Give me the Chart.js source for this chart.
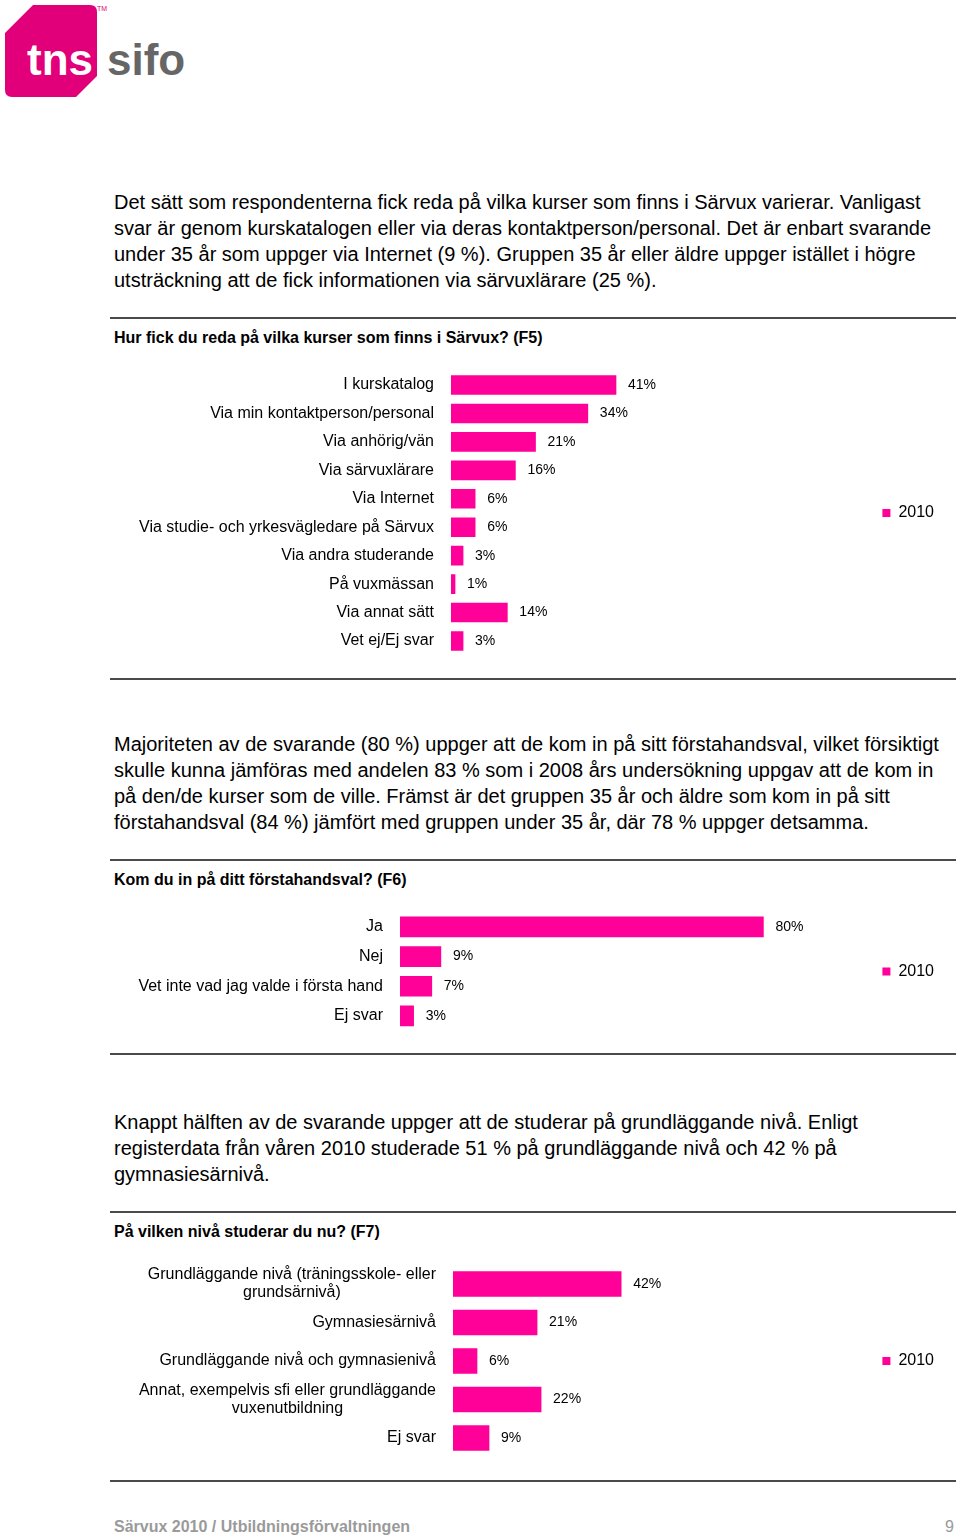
<!DOCTYPE html>
<html>
<head>
<meta charset="utf-8">
<script src="https://cdn.jsdelivr.net/npm/chart.js"></script>
<style>
  html, body { margin: 0; padding: 0; background: #fff; }
  body {
    width: 960px;
    height: 1540px;
    position: relative;
    overflow: hidden;
    font-family: "Liberation Sans", Arial, sans-serif;
    color: #000;
  }
  .para {
    position: absolute;
    left: 114px;
    font-size: 20px;
    line-height: 26px;
    white-space: nowrap;
  }
  .heading {
    position: absolute;
    left: 114px;
    font-size: 16px;
    font-weight: bold;
    line-height: 20px;
    white-space: nowrap;
  }
  .rule {
    position: absolute;
    left: 110px;
    width: 846px;
    height: 2px;
    background: #4a4a4a;
  }
  .chart-box { position: absolute; left: 110px; width: 850px; }
  .footer {
    position: absolute;
    top: 1518px;
    font-family: "Liberation Sans Narrow", "Liberation Sans", Arial, sans-serif;
    font-weight: bold;
    font-size: 16px;
    color: #9a9a9a;
  }
</style>
</head>
<body>

<svg style="position:absolute;left:0;top:0" width="200" height="110">
  <path d="M33,5 L90,5 Q97,5 97,12 L97,76 L76,97 L12,97 Q5,97 5,90 L5,33 Z" fill="#e2007a"/>
  <text x="27" y="75" font-family="Liberation Sans, Arial" font-weight="bold" font-size="44" fill="#fff">tns</text>
  <text x="107" y="75" font-family="Liberation Sans, Arial" font-weight="bold" font-size="44" fill="#666">sifo</text>
  <text x="97" y="11" font-family="Liberation Sans, Arial" font-size="7" fill="#e2007a">TM</text>
</svg>

<div class="para" style="top:189px">
Det sätt som respondenterna fick reda på vilka kurser som finns i Särvux varierar. Vanligast<br>
svar är genom kurskatalogen eller via deras kontaktperson/personal. Det är enbart svarande<br>
under 35 år som uppger via Internet (9 %). Gruppen 35 år eller äldre uppger istället i högre<br>
utsträckning att de fick informationen via särvuxlärare (25 %).
</div>

<div class="rule" style="top:317px"></div>
<div class="heading" style="top:328px">Hur fick du reda på vilka kurser som finns i Särvux? (F5)</div>
<div class="chart-box" style="top:361px;height:300px"><canvas id="chartF5"></canvas></div>
<div class="rule" style="top:678px"></div>

<div class="para" style="top:731px">
Majoriteten av de svarande (80 %) uppger att de kom in på sitt förstahandsval, vilket försiktigt<br>
skulle kunna jämföras med andelen 83 % som i 2008 års undersökning uppgav att de kom in<br>
på den/de kurser som de ville. Främst är det gruppen 35 år och äldre som kom in på sitt<br>
förstahandsval (84 %) jämfört med gruppen under 35 år, där 78 % uppger detsamma.
</div>

<div class="rule" style="top:859px"></div>
<div class="heading" style="top:870px">Kom du in på ditt förstahandsval? (F6)</div>
<div class="chart-box" style="top:901px;height:140px"><canvas id="chartF6"></canvas></div>
<div class="rule" style="top:1053px"></div>

<div class="para" style="top:1109px">
Knappt hälften av de svarande uppger att de studerar på grundläggande nivå. Enligt<br>
registerdata från våren 2010 studerade 51 % på grundläggande nivå och 42 % på<br>
gymnasiesärnivå.
</div>

<div class="rule" style="top:1211px"></div>
<div class="heading" style="top:1222px">På vilken nivå studerar du nu? (F7)</div>
<div class="chart-box" style="top:1256px;height:210px"><canvas id="chartF7"></canvas></div>
<div class="rule" style="top:1480px"></div>

<div class="footer" style="left:114px">Särvux 2010 / Utbildningsförvaltningen</div>
<div class="footer" style="left:945px;font-weight:normal">9</div>

<script>
  const seriesName = '2010';

  const f5Labels = [
    'I kurskatalog',
    'Via min kontaktperson/personal',
    'Via anhörig/vän',
    'Via särvuxlärare',
    'Via Internet',
    'Via studie- och yrkesvägledare på Särvux',
    'Via andra studerande',
    'På vuxmässan',
    'Via annat sätt',
    'Vet ej/Ej svar',
  ];
  const f5Values = [41, 34, 21, 16, 6, 6, 3, 1, 14, 3];

  const f6Labels = ['Ja', 'Nej', 'Vet inte vad jag valde i första hand', 'Ej svar'];
  const f6Values = [80, 9, 7, 3];

  const f7Labels = [
    ['Grundläggande nivå (träningsskole- eller', 'grundsärnivå)'],
    'Gymnasiesärnivå',
    'Grundläggande nivå och gymnasienivå',
    ['Annat, exempelvis sfi eller grundläggande', 'vuxenutbildning'],
    'Ej svar',
  ];
  const f7Values = [42, 21, 6, 22, 9];

  const pink = '#ff0099';
  const fontFamily = '"Liberation Sans", Arial, sans-serif';

  // category labels: single lines right aligned, wrapped ones centred as a block
  const categoryLabels = {
    id: 'categoryLabels',
    afterDraw(chart) {
      const ctx = chart.ctx;
      const y = chart.scales.y;
      const right = chart.chartArea.left - 17;
      ctx.save();
      ctx.font = '16px ' + fontFamily;
      ctx.fillStyle = '#000';
      ctx.textAlign = 'center';
      ctx.textBaseline = 'middle';
      chart.data.labels.forEach((label, i) => {
        const lines = Array.isArray(label) ? label : [label];
        const w = Math.max(...lines.map(l => ctx.measureText(l).width));
        const py = y.getPixelForTick(i);
        const start = py - (lines.length - 1) * 9;
        lines.forEach((line, k) => {
          ctx.fillText(line, right - w / 2, start + k * 18);
        });
      });
      ctx.restore();
    },
  };

  // value labels to the right of each bar
  const valueLabels = {
    id: 'valueLabels',
    afterDatasetsDraw(chart) {
      const ctx = chart.ctx;
      ctx.save();
      ctx.font = '14px ' + fontFamily;
      ctx.fillStyle = '#000';
      ctx.textAlign = 'left';
      ctx.textBaseline = 'middle';
      chart.getDatasetMeta(0).data.forEach((bar, i) => {
        ctx.fillText(chart.data.datasets[0].data[i] + '%', bar.x + 12, bar.y);
      });
      ctx.restore();
    },
  };

  function makeChart(id, labels, values, opts) {
    return new Chart(document.getElementById(id), {
      type: 'bar',
      data: {
        labels: labels,
        datasets: [
          {
            label: seriesName,
            data: values,
            backgroundColor: pink,
            barThickness: opts.thickness,
          },
        ],
      },
      options: {
        indexAxis: 'y',
        responsive: true,
        maintainAspectRatio: false,
        animation: false,
        layout: {
          padding: { top: opts.padTop, bottom: opts.padBottom, left: 0, right: 16 },
        },
        plugins: {
          tooltip: { enabled: false },
          legend: {
            position: 'right',
            labels: {
              boxWidth: 8,
              boxHeight: 8,
              color: '#000',
              font: { family: fontFamily, size: 16 },
            },
          },
        },
        scales: {
          x: { display: false, min: 0, max: opts.max },
          y: {
            grid: { display: false },
            border: { display: false },
            ticks: { display: false },
            afterFit(scale) {
              scale.width = opts.axisWidth;
            },
          },
        },
      },
      plugins: [categoryLabels, valueLabels],
    });
  }

  makeChart('chartF5', f5Labels, f5Values, {
    thickness: 19, padTop: 9.8, padBottom: 5.8, axisWidth: 341, max: 104.7,
  });
  makeChart('chartF6', f6Labels, f6Values, {
    thickness: 20, padTop: 11, padBottom: 10.2, axisWidth: 290, max: 104.0,
  });
  makeChart('chartF7', f7Labels, f7Values, {
    thickness: 25, padTop: 8.75, padBottom: 8.75, axisWidth: 343, max: 104.75,
  });
</script>
</body>
</html>
